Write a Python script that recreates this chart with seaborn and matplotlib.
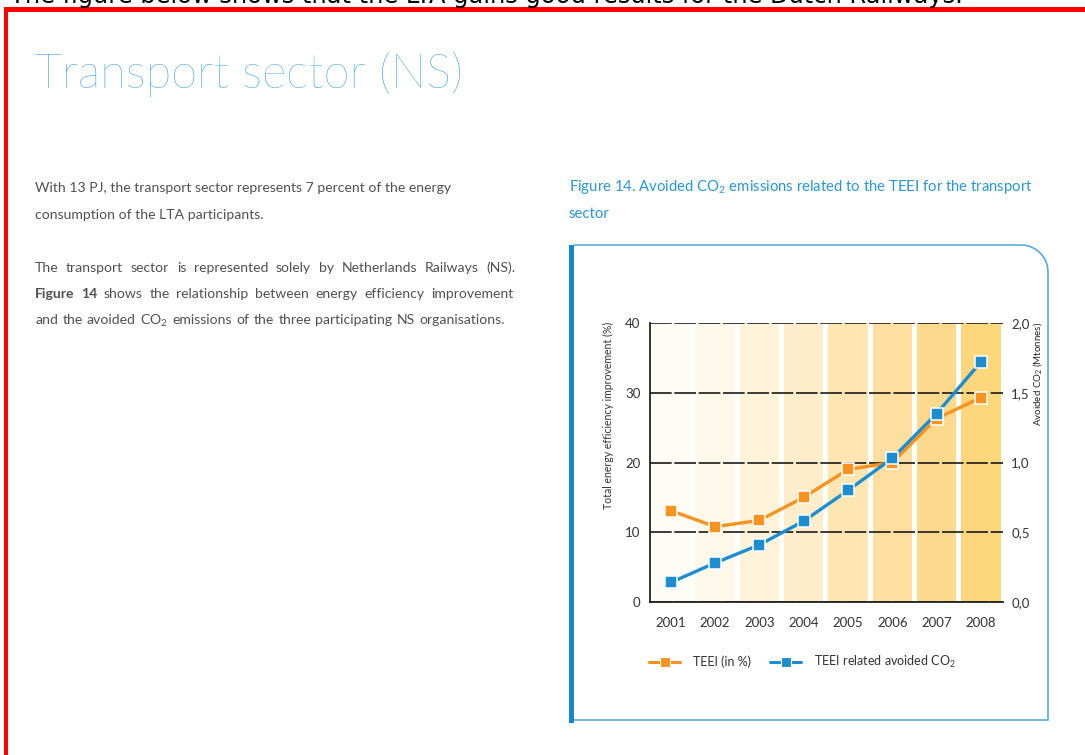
import numpy as np
import matplotlib
matplotlib.use("Agg")
import matplotlib.pyplot as plt
import seaborn as sns
from matplotlib.patches import Rectangle, PathPatch
from matplotlib.path import Path
from matplotlib.lines import Line2D
from matplotlib.ticker import FixedLocator, FixedFormatter

# ---------------- data ----------------
years = [2001, 2002, 2003, 2004, 2005, 2006, 2007, 2008]
teei_pct = [13.1, 10.8, 11.7, 15.0, 19.0, 20.0, 26.3, 29.3]
avoided_co2_mt = [0.14, 0.28, 0.41, 0.58, 0.80, 1.03, 1.35, 1.72]
left_ticks = [0, 10, 20, 30, 40]
left_tick_labels = ["0", "10", "20", "30", "40"]
right_ticks = [0.0, 0.5, 1.0, 1.5, 2.0]
right_tick_labels = ["0,0", "0,5", "1,0", "1,5", "2,0"]
series_labels = ["TEEI (in %)", r"TEEI related avoided $\mathregular{CO_2}$"]

# ---------------- style ----------------
W, H = 1085, 755
ORANGE = "#F7931E"
BLUE = "#1C8ED0"
band_colors = ["#FFFCF5", "#FEF8EA", "#FEF2D8", "#FEEDCA",
               "#FEE6B3", "#FEDFA1", "#FDD98E", "#FED67C"]
TITLE_BLUE = "#2393D8"
CAP_BLUE = "#2A96D5"
GRAY = "#505050"

sns.set_theme(style="white")
FONT = "Lato"
plt.rcParams["font.family"] = [FONT, "DejaVu Sans"]

fig = plt.figure(figsize=(W / 100, H / 100), dpi=100)
fig.patch.set_facecolor("white")
renderer = fig.canvas.get_renderer()


def fx(x):
    return x / W


def fy(y):
    return 1 - y / H


def tw(t):
    return t.get_window_extent(renderer=renderer).width


def fit_text(x, y, s, width, size=10, **kw):
    t = fig.text(fx(x), fy(y), s, fontsize=size, **kw)
    t.set_fontsize(size * width / tw(t))
    return t


def justify(x, y, words, width, size, **kw):
    arts = []
    for w, wt in words:
        arts.append(fig.text(fx(x), fy(y), w, fontsize=size, fontweight=wt, **kw))
    widths = [tw(a) for a in arts]
    gap = (width - sum(widths)) / (len(arts) - 1)
    cx = x
    for a, wd in zip(arts, widths):
        a.set_x(fx(cx))
        cx += wd + gap


# ---------------- page decoration ----------------
fit_text(10, 3.0, "The figure below shows that the LTA gains good results for the Dutch Railways.",
         953, size=17, family="DejaVu Sans", color="black", va="baseline")
fig.patches.append(Rectangle((fx(3.5), fy(11.7)), 1 - fx(3.5), 4.4 / H,
                             transform=fig.transFigure, color="#FF0000", lw=0, figure=fig))
fig.patches.append(Rectangle((fx(3.5), 0), 4.5 / W, fy(7.3),
                             transform=fig.transFigure, color="#FF0000", lw=0, figure=fig))

fit_text(35, 88, "Transport sector (NS)", 427, size=40, color=TITLE_BLUE,
         va="baseline", fontweight="light")

t1 = fit_text(35, 191.5, "With 13 PJ, the transport sector represents 7 percent of the energy",
              417, size=10, color=GRAY, va="baseline")
body_size = t1.get_fontsize()
fig.text(fx(35), fy(218.5), "consumption of the LTA participants.", fontsize=body_size,
         color=GRAY, va="baseline")
p2_line1 = [(w, "normal") for w in
            "The transport sector is represented solely by Netherlands Railways (NS).".split(" ")]
p2_line2 = [("Figure", "bold"), ("14", "bold")] + \
           [(w, "normal") for w in "shows the relationship between energy efficiency improvement".split(" ")]
p2_line3 = [(w, "normal") for w in ["and", "the", "avoided", r"$\mathregular{CO_2}$", "emissions",
                                     "of", "the", "three", "participating", "NS", "organisations."]]
justify(35, 271.5, p2_line1, 480, body_size, color=GRAY, va="baseline")
justify(35, 298.5, p2_line2, 478, body_size, color=GRAY, va="baseline")
justify(35, 324.5, p2_line3, 470, body_size, color=GRAY, va="baseline")

cap_t = fit_text(569, 191, r"Figure 14. Avoided $\mathregular{CO_2}$ emissions related to the TEEI for the transport",
                 465, size=10, color=CAP_BLUE, va="baseline")
fig.text(fx(569), fy(218), "sector", fontsize=cap_t.get_fontsize(), color=CAP_BLUE, va="baseline")

# chart frame
fig.patches.append(Rectangle((fx(569), fy(723)), 5 / W, (723 - 245) / H,
                             transform=fig.transFigure, color="#1488CC", lw=0, figure=fig))
r = 27
cxp, cyp = 1048 - r, 245 + r
ang = np.linspace(0, np.pi / 2, 20)
verts = [(574, 245), (cxp, 245)] + [(cxp + r * np.sin(a), cyp - r * np.cos(a)) for a in ang] + \
        [(1048, 720), (574, 720)]
verts = [(fx(a), fy(b)) for a, b in verts]
fig.patches.append(PathPatch(Path(verts), transform=fig.transFigure, fill=False,
                             ec="#4DA3DE", lw=1.1, figure=fig))

# ---------------- chart ----------------
ax = fig.add_axes([fx(650), fy(602), (1003 - 650) / W, (602 - 323) / H])
ax.set_facecolor("white")
for yr, c in zip(years, band_colors):
    ax.axvspan(yr - 0.445, yr + 0.445, color=c, lw=0, zorder=0)

sns.lineplot(x=years, y=teei_pct, ax=ax, color=ORANGE, marker="s", markersize=8,
             markeredgecolor="white", markeredgewidth=1.1, linewidth=2.4, legend=False, zorder=3)
ax.set_xlim(2000.53, 2008.50)
ax.set_ylim(0, 40)
ax.yaxis.set_major_locator(FixedLocator(left_ticks))
ax.yaxis.set_major_formatter(FixedFormatter(left_tick_labels))
ax.set_xticks(years)
ax.set_xticklabels([str(y) for y in years])
ax.set_axisbelow(True)
ax.grid(axis="y", color="#1a1a1a", linestyle=(0, (13, 1.6)), linewidth=1.2)
ax.grid(axis="x", visible=False)
for s in ["top", "right"]:
    ax.spines[s].set_visible(False)
for s in ["left", "bottom"]:
    ax.spines[s].set_color("#222222")
    ax.spines[s].set_linewidth(1.3)
ax.tick_params(axis="x", length=0, pad=11, labelsize=9.5, labelcolor="#333333")
ax.tick_params(axis="y", length=0, pad=7, labelsize=9.5, labelcolor="#333333")
ax.set_xlabel("")
ax.set_ylabel("")

ax2 = ax.twinx()
sns.lineplot(x=years, y=avoided_co2_mt, ax=ax2, color=BLUE, marker="s", markersize=8,
             markeredgecolor="white", markeredgewidth=1.1, linewidth=2.4, legend=False, zorder=4)
ax2.set_ylim(0, 2.0)
ax2.yaxis.set_major_locator(FixedLocator(right_ticks))
ax2.yaxis.set_major_formatter(FixedFormatter(right_tick_labels))
ax2.grid(False)
for s in ax2.spines.values():
    s.set_visible(False)
ax2.tick_params(axis="y", length=0, pad=6, labelsize=9.5, labelcolor="#333333")
ax2.set_ylabel("")
ax2.set_xlim(2000.53, 2008.50)

# axis titles
lt = fig.text(fx(608), fy(322), "Total energy efficiency improvement (%)", rotation=90,
              ha="center", va="top", fontsize=8, color="#333333")
lt.set_fontsize(8 * 188 / lt.get_window_extent(renderer=renderer).height)
rt = fig.text(fx(1037), fy(322), r"Avoided $\mathregular{CO_2}$ (Mtonnes)", rotation=90,
              ha="center", va="top", fontsize=8, color="#222222")
rt.set_fontsize(8 * 105 / rt.get_window_extent(renderer=renderer).height)

# legend
handles = [Line2D([], [], color=ORANGE, marker="s", lw=2.2, ms=6.5, mec="white", mew=0.8),
           Line2D([], [], color=BLUE, marker="s", lw=2.2, ms=6.5, mec="white", mew=0.8)]
fs = 9
em = fs * 100 / 72
fig.legend(handles, series_labels, loc="center left", bbox_to_anchor=(fx(649), fy(662)),
           bbox_transform=fig.transFigure, ncol=2, frameon=False, fontsize=fs,
           handlelength=31 / em, handletextpad=13 / em, columnspacing=19 / em,
           borderpad=0, borderaxespad=0, labelcolor="#333333")

fig.savefig("out.png", dpi=100, facecolor="white")
